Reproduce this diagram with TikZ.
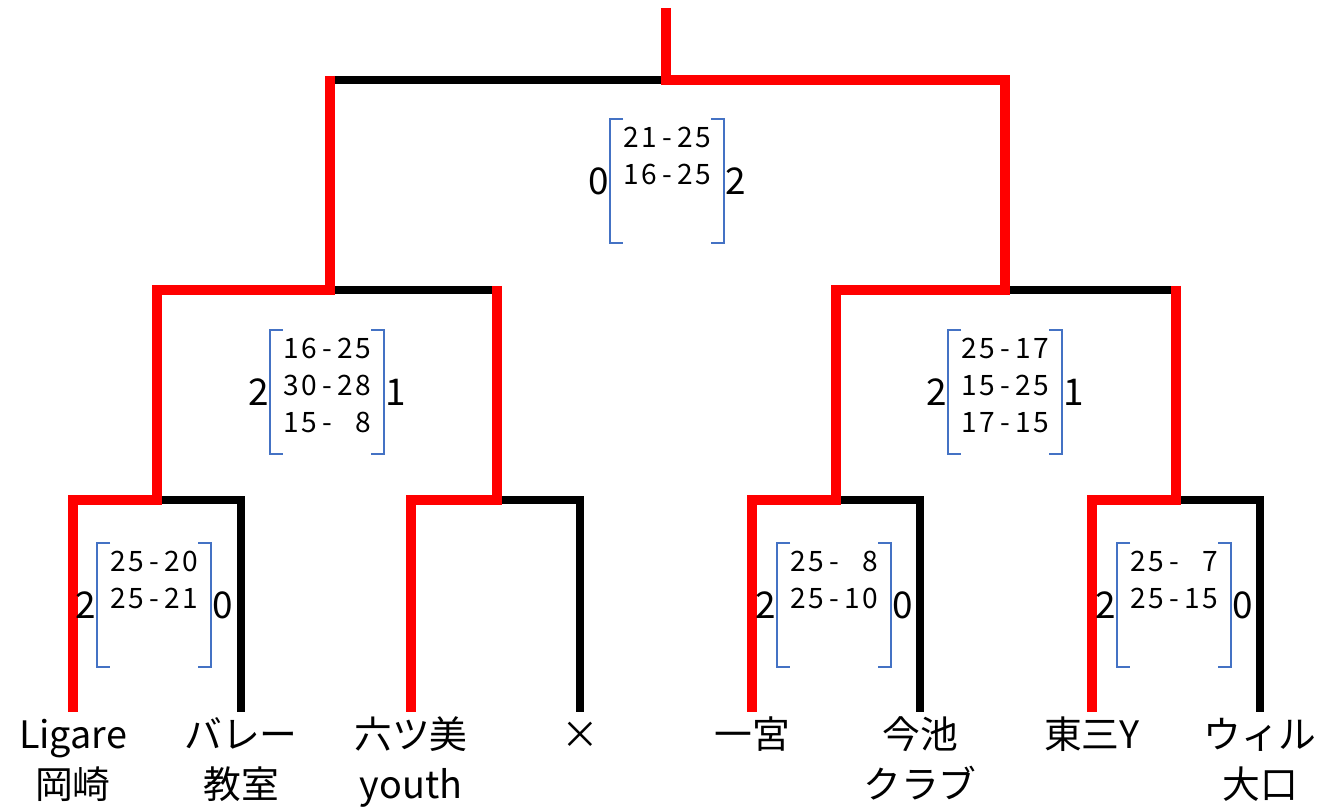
\documentclass[tikz,border=0pt]{standalone}
\usepackage{fontspec}
\setmainfont{Noto Sans CJK JP}
\usetikzlibrary{calc}
\definecolor{bracketblue}{RGB}{68,114,196}
\def\mono#1{\monoloop#1\relax}
\def\monoloop#1{\ifx#1\relax\else\makebox[0.36cm]{#1}\expandafter\monoloop\fi}
\def\scorecard(#1,#2)#3#4#5#6{%
	\draw[bracketline] ({#1-44},{#2-62}) -- ({#1-57},{#2-62}) -- ({#1-57},{#2+62}) -- ({#1-44},{#2+62});
	\draw[bracketline] ({#1+44},{#2-62}) -- ({#1+57},{#2-62}) -- ({#1+57},{#2+62}) -- ({#1+44},{#2+62});
	\node[scores] (#3) at ({#1},{#2-54}) {#6};
	\node[count, anchor=east] (#3-l) at ({#1-58},{#2}) {#4};
	\node[count, anchor=west] (#3-r) at ({#1+58},{#2}) {#5};}

\begin{document}
\begin{tikzpicture}[x=0.02cm, y=-0.02cm,
		lose/.style={line width=0.16cm, color=black},
		win/.style={line width=0.2cm, color=red},
		bracketline/.style={line width=0.04cm, color=bracketblue},
		team/.style={anchor=north, inner sep=0, align=center, font=\fontsize{21.5}{29}\selectfont},
		scores/.style={anchor=north, inner sep=0, align=center, font=\fontsize{16}{21}\selectfont},
		count/.style={inner sep=0, font=\fontsize{21}{29}\selectfont}]
		%%%%% START %%%%%
		
		\useasboundingbox (0, 0) rectangle (1330, 807);
		
		\coordinate (top) at (666, 8);
		\coordinate (fin) at (666, 80);
		\coordinate (semiA) at (330, 290);
		\coordinate (semiB) at (1005, 290);
		\coordinate (qA) at (157, 500);
		\coordinate (qB) at (497, 500);
		\coordinate (qC) at (836, 500);
		\coordinate (qD) at (1176, 500);
		
		\node[team] (ligare) at (73, 712) {\strut Ligare\\岡崎};
		\node[team] (barre) at (241, 712) {\strut バレー\\教室};
		\node[team] (mutsumi) at (411, 712) {\strut 六ツ美\\youth};
		\node[team] (batsu) at (580, 712) {\strut ×};
		\node[team] (ichinomiya) at (752, 712) {\strut 一宮};
		\node[team] (imaike) at (920, 712) {\strut 今池\\クラブ};
		\node[team] (tozo) at (1092, 712) {\strut 東三Y};
		\node[team] (will) at (1260, 712) {\strut ウィル\\大口};
		
		\draw[lose] (semiA |- fin) -- (fin);
		\draw[lose] (semiA) -- (qB |- semiA);
		\draw[lose] (semiB) -- (qD |- semiB);
		\draw[lose] (qA) -| (barre.north);
		\draw[lose] (qB) -| (batsu.north);
		\draw[lose] (qC) -| (imaike.north);
		\draw[lose] (qD) -| (will.north);
		
		\draw[win] (top) -- (fin) -| (semiB) -| (qC) -| (ichinomiya.north);
		\draw[win] ($(semiA |- fin)+(0, -4)$) -- (semiA) -| (qA) -| (ligare.north);
		\draw[win] ($(qB |- semiA)+(0, -4)$) -- (qB) -| (mutsumi.north);
		\draw[win] ($(qD |- semiB)+(0, -4)$) -- (qD) -| (tozo.north);
		
		\scorecard(667, 181){final}{0}{2}{\mono{21-25}\\\mono{16-25}}
		\scorecard(327, 392){semiAsc}{2}{1}{\mono{16-25}\\\mono{30-28}\\\mono{15-~8}}
		\scorecard(1005, 392){semiBsc}{2}{1}{\mono{25-17}\\\mono{15-25}\\\mono{17-15}}
		\scorecard(154, 605){qAsc}{2}{0}{\mono{25-20}\\\mono{25-21}}
		\scorecard(834, 605){qCsc}{2}{0}{\mono{25-~8}\\\mono{25-10}}
		\scorecard(1174, 605){qDsc}{2}{0}{\mono{25-~7}\\\mono{25-15}}
		
		%%%%% END %%%%%
\end{tikzpicture}
\end{document}
